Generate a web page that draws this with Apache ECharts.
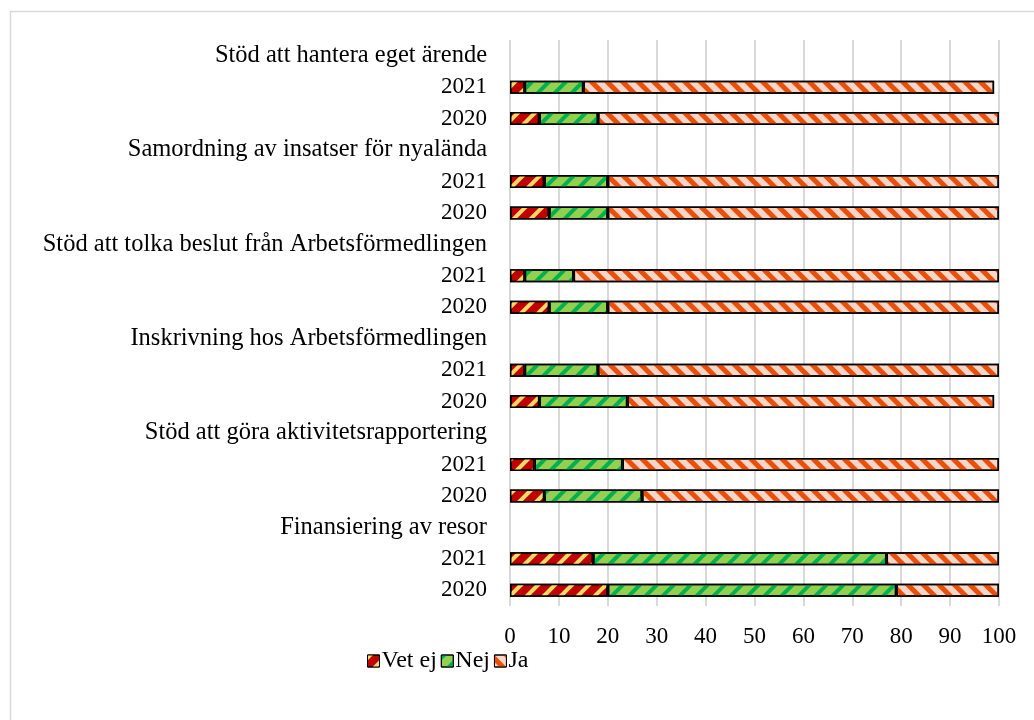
<!DOCTYPE html>
<html>
<head>
<meta charset="utf-8">
<script src="https://cdn.jsdelivr.net/npm/echarts@6/dist/echarts.min.js"></script>
<style>
  html, body { margin: 0; padding: 0; background: #fff; }
  #chart { width: 1034px; height: 720px; }
</style>
</head>
<body>
<div id="chart"></div>
<script>
const groups = [
  'Stöd att hantera eget ärende',
  'Samordning av insatser för nyalända',
  'Stöd att tolka beslut från Arbetsförmedlingen',
  'Inskrivning hos Arbetsförmedlingen',
  'Stöd att göra aktivitetsrapportering',
  'Finansiering av resor'
]
const years = ['2021', '2020']

// per group: [2021, 2020]
const vetEj = [[3, 6], [7, 8], [3, 8], [3, 6], [5, 7], [17, 20]]
const nej = [[12, 12], [13, 12], [10, 12], [15, 18], [18, 20], [60, 59]]
const ja = [[84, 82], [80, 80], [87, 80], [82, 75], [77, 73], [23, 21]]

const xTicks = [0, 100, 10]   // min, max, interval

// category rows: group header, then one row per year
const categories = []
const rowOf = (arr) => {
  const out = []
  groups.forEach((g, i) => {
    out.push(null)
    years.forEach((y, j) => out.push(arr[i][j]))
  })
  return out
}
groups.forEach(g => {
  categories.push(g)
  years.forEach(y => categories.push(y))
})

const font = 'Liberation Serif'

const stripes = (color, rotation, dash) => ({
  symbol: 'rect',
  symbolSize: 1,
  color,
  rotation,
  dashArrayX: [1, 0],
  dashArrayY: dash
})

const mkSeries = (name, data, color, decal) => ({
  name,
  type: 'bar',
  stack: 'total',
  barWidth: 13,
  data: rowOf(data),
  itemStyle: {
    color,
    borderColor: '#000',
    borderWidth: 1.5,
    decal
  },
  emphasis: { disabled: true }
})

const chart = echarts.init(document.getElementById('chart'))
chart.setOption({
  animation: false,
  backgroundColor: '#fff',
  graphic: [{
    type: 'rect',
    shape: { x: 10.5, y: 11.5, width: 1100, height: 800 },
    style: { fill: 'none', stroke: '#d9d9d9', lineWidth: 1.5 },
    silent: true
  }],
  legend: {
    top: 644,
    left: 362,
    icon: 'rect',
    itemWidth: 12,
    itemHeight: 12,
    itemGap: 4,
    textStyle: { fontFamily: font, fontSize: 24, color: '#000', padding: [0, 0, 0, -3] },
    itemStyle: { borderColor: '#000', borderWidth: 1 }
  },
  grid: { left: 510, right: 35, top: 40, bottom: 114 },
  xAxis: {
    type: 'value',
    min: xTicks[0],
    max: xTicks[1],
    interval: xTicks[2],
    axisLine: { show: false },
    axisTick: { show: false },
    splitLine: { lineStyle: { color: '#d9d9d9', width: 2 } },
    axisLabel: { fontFamily: font, fontSize: 23, color: '#000', margin: 19 }
  },
  yAxis: {
    type: 'category',
    inverse: true,
    data: categories,
    axisLine: { show: false },
    axisTick: { show: false },
    axisLabel: {
      color: '#000',
      margin: 23,
      interval: 0,
      formatter: v => years.includes(v) ? '{y|' + v + '}' : '{g|' + v + '}',
      rich: {
        g: { fontFamily: font, fontSize: 24.5, color: '#000' },
        y: { fontFamily: font, fontSize: 23, color: '#000' }
      }
    }
  },
  series: [
    mkSeries('Vet ej', vetEj, '#C00000', stripes('#FFD966', -Math.PI / 4, [4, 8])),
    mkSeries('Nej', nej, '#92D050', stripes('#00B050', -Math.PI / 4, [4, 8])),
    mkSeries('Ja', ja, '#FCD5C6', stripes('#E8500A', Math.PI / 4, [5, 6]))
  ]
})
</script>
</body>
</html>
